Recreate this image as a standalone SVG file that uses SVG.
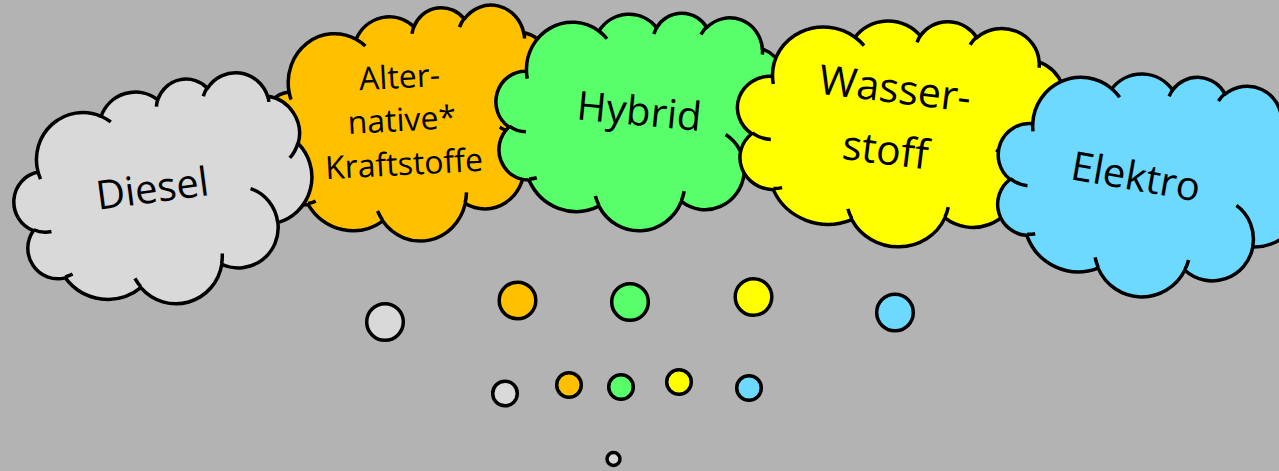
<svg xmlns="http://www.w3.org/2000/svg" xmlns:xlink="http://www.w3.org/1999/xlink" width="1279" height="471" viewBox="0 0 1279 471">
  <style>
    .body { stroke: #000; stroke-width: 3.5; stroke-linejoin: round; }
    .crease { fill: none; stroke: #000; stroke-width: 3.5; stroke-linecap: butt; }
    .label { font-family: "Open Sans", "Noto Sans", sans-serif; font-size: 40px; fill: #000; text-anchor: middle; }
    .dot { stroke: #000; stroke-width: 3.5; }
    .grey { fill: #d9d9d9; }
    .orange { fill: #ffc000; }
    .green { fill: #58ff6b; }
    .yellow { fill: #ffff00; }
    .blue { fill: #6dd9ff; }
  </style>
  <defs>
    <!-- cloud outline in a 100 x 100 box -->
    <path id="cloud-body" vector-effect="non-scaling-stroke" d="M 9.03 33.26 A 15.63 21.27 0 0 1 32.42 12.04 A 12.34 16.82 0 0 1 51.99 7.95 A 10.10 13.76 0 0 1 69.07 5.75 A 11.24 15.27 0 0 1 88.71 12.92 A 12.34 16.84 0 0 1 96.81 35.80 A 15.68 21.34 0 0 1 86.59 69.92 A 13.39 18.21 0 0 1 66.11 85.22 A 15.63 21.33 0 0 1 38.16 90.90 A 17.87 24.41 0 0 1 13.45 82.12 A 10.09 13.70 0 0 1 4.90 59.15 A 10.06 13.76 0 0 1 9.03 33.26 Z"/>
    <!-- the short inner arcs between the puffs -->
    <path id="cloud-creases" vector-effect="non-scaling-stroke" d="M 10.86 60.60 A 10.06 13.76 0 0 1 5.00 58.75 M 16.04 80.78 A 10.09 13.70 0 0 1 13.47 81.67 M 38.14 90.49 A 15.63 21.33 0 0 1 36.60 86.46 M 66.73 80.44 A 15.63 21.33 0 0 1 66.11 84.86 M 79.00 53.13 A 13.39 18.21 0 0 1 86.53 69.65 M 96.75 35.54 A 12.34 16.84 0 0 1 93.40 41.74 M 88.71 12.56 A 11.24 15.27 0 0 1 88.89 15.49 M 67.31 9.15 A 11.24 15.27 0 0 1 69.03 5.42 M 51.25 10.93 A 10.10 13.76 0 0 1 52.08 7.71 M 32.41 12.02 A 15.63 21.27 0 0 1 35.42 15.15 M 9.55 36.55 A 15.63 21.27 0 0 1 9.03 33.27"/>
  </defs>

  <rect width="1279" height="471" fill="#b3b3b3"/>

  <!-- Alternative Kraftstoffe -->
  <g id="alternative" transform="translate(413 124.5) rotate(-3)">
    <g transform="translate(-149 -116) scale(2.98 2.32)">
      <use xlink:href="#cloud-body" class="body orange"/>
      <use xlink:href="#cloud-creases" class="crease"/>
    </g>
    <text class="label" style="font-size:32px" x="-11" y="-37">Alter-</text>
    <text class="label" style="font-size:32px" x="-11" y="6">native*</text>
    <text class="label" style="font-size:32px" x="-11" y="50">Kraftstoffe</text>
  </g>

  <!-- Diesel -->
  <g id="diesel" transform="translate(164 193) rotate(-7.5)">
    <g transform="translate(-149 -111) scale(2.98 2.22)">
      <use xlink:href="#cloud-body" class="body grey"/>
      <use xlink:href="#cloud-creases" class="crease"/>
    </g>
    <text class="label" x="-11" y="8">Diesel</text>
  </g>

  <!-- Hybrid -->
  <g id="hybrid" transform="translate(642 119.5) rotate(5.5)">
    <g transform="translate(-146 -110.5) scale(2.92 2.21)">
      <use xlink:href="#cloud-body" class="body green"/>
      <use xlink:href="#cloud-creases" class="crease"/>
    </g>
    <text class="label" x="-3.5" y="6">Hybrid</text>
  </g>

  <!-- Wasserstoff -->
  <g id="wasserstoff" transform="translate(902 131) rotate(7)">
    <g transform="translate(-165 -115) scale(3.3 2.3)">
      <use xlink:href="#cloud-body" class="body yellow"/>
      <use xlink:href="#cloud-creases" class="crease"/>
    </g>
    <text class="label" style="font-size:41px" x="-12" y="-27">Wasser-</text>
    <text class="label" style="font-size:41px" x="-14" y="35">stoff</text>
  </g>

  <!-- Elektro -->
  <g id="elektro" transform="translate(1150 183) rotate(10)">
    <g transform="translate(-153.5 -113.5) scale(3.07 2.27)">
      <use xlink:href="#cloud-body" class="body blue"/>
      <use xlink:href="#cloud-creases" class="crease"/>
    </g>
    <text class="label" x="-15" y="10">Elektro</text>
  </g>

  <!-- trailing bubbles -->
  <g id="bubbles-large">
    <circle class="dot grey" cx="385" cy="322" r="18.3"/>
    <circle class="dot orange" cx="517.5" cy="300.5" r="18.3"/>
    <circle class="dot green" cx="630" cy="302" r="18.3"/>
    <circle class="dot yellow" cx="753.5" cy="297" r="18.3"/>
    <circle class="dot blue" cx="895" cy="312.5" r="18.3"/>
  </g>
  <g id="bubbles-small">
    <circle class="dot grey" cx="505" cy="393.5" r="12.3"/>
    <circle class="dot orange" cx="569" cy="385" r="12.3"/>
    <circle class="dot green" cx="621" cy="387" r="12.3"/>
    <circle class="dot yellow" cx="679" cy="382" r="12.3"/>
    <circle class="dot blue" cx="749" cy="388" r="12.3"/>
  </g>
  <g id="bubble-tiny">
    <circle class="dot grey" cx="613.5" cy="459" r="6.5"/>
  </g>
</svg>
